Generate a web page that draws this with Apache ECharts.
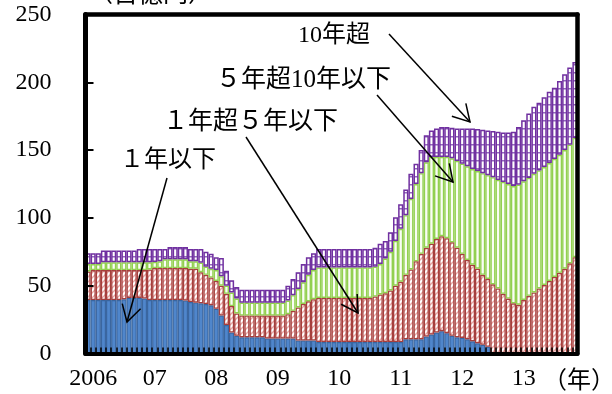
<!DOCTYPE html>
<html>
<head>
<meta charset="utf-8">
<script src="https://cdn.jsdelivr.net/npm/echarts@6/dist/echarts.min.js"></script>
<style>
  html, body { margin: 0; padding: 0; background: #fff; }
  #chart { width: 612px; height: 394px; }
</style>
</head>
<body>
<div id="chart"></div>
<script>
// Monthly outstanding amounts by residual maturity (百億円), stacked.
const upTo1y = [
  39.5, 39.5, 39.5, 39.5, 39.5, 39.5, 39.5, 40, 41, 41, 41, 40.5,
  39.5, 39.5, 39.5, 39.5, 39.5, 39.5, 39.5, 39, 38, 37.5, 37, 36.5,
  35.5, 33, 28, 21, 15.5, 13, 12, 12, 12, 12, 12, 11,
  11, 11, 11, 11, 11, 9.5, 9.5, 9.5, 9.5, 8.5, 8.5, 8.5,
  8.5, 8.5, 8.5, 8.5, 8.5, 8.5, 8.5, 8.5, 8.5, 8.5, 8.5, 8.5,
  8.5, 8.5, 10.5, 10.5, 10.5, 10.5, 12.5, 14, 15.5, 16.5, 15, 13,
  12, 11.5, 10.5, 9, 7.5, 6.5, 5, 0, 0, 0, 0, 0,
  0, 0, 0, 0, 0, 0, 0, 0, 0, 0, 0, 0
];
const over1to5y = [
  21, 22, 22, 22, 22, 22, 22, 21.5, 20.5, 20.5, 20.5, 21,
  22.5, 23.5, 23.5, 23.5, 23.5, 23.5, 23.5, 24, 24.5, 25, 23, 21.5,
  20.5, 20.5, 22, 23, 19.5, 16.5, 16, 16, 16, 16, 16, 17,
  17, 17, 17, 18, 20.5, 24.5, 27, 29, 30.5, 32.5, 32.5, 32.5,
  32.5, 32.5, 32.5, 32.5, 32.5, 32.5, 32.5, 32.5, 33.5, 35, 36, 38,
  41.5, 44.5, 47.5, 51.5, 57.5, 63, 65.5, 67, 69, 70, 70, 69,
  66, 62, 58.5, 56.5, 55, 51.5, 50, 51, 48, 44, 40.5, 37,
  36, 39.5, 42.5, 45, 48, 50.5, 53.5, 56.5, 59.5, 62.5, 66.5, 71
];
const over5to10y = [
  5.5, 4.5, 4.5, 5.8, 5.8, 5.8, 5.8, 5.8, 5.8, 5.8, 5.8, 5.8,
  5.3, 4.5, 5, 6.5, 6.5, 6.5, 6.5, 6.5, 5.5, 5.5, 7, 6,
  6.5, 8, 7, 6, 10, 11, 9.5, 9.5, 9.5, 9.5, 9.5, 9.5,
  9.5, 9.5, 9.5, 10, 11.5, 13.5, 16, 19.5, 21.5, 22.5, 22.5, 22.5,
  22.5, 22.5, 22.5, 22.5, 22.5, 22.5, 22.5, 22.5, 22, 22.5, 25.5, 28.5,
  33, 39, 44, 52, 57, 59.5, 63, 64, 60.5, 58.5, 60, 62,
  64, 66.5, 69, 70.5, 72, 75, 76.5, 79, 80, 82.5, 84.5, 86.5,
  88.5, 87.5, 87, 87.5, 87, 87, 87, 87, 87, 87.5, 87.5, 88
];
const over10y = [
  8, 8, 8, 8.7, 8.7, 8.7, 8.7, 8.7, 8.7, 8.7, 9.7, 9.7,
  9.7, 9.5, 9, 7.5, 9, 9, 9, 9, 9, 9, 10, 11,
  11, 9.5, 13.5, 11, 9, 8.5, 9.5, 9.5, 9.5, 9.5, 9.5, 9.5,
  9.5, 9.5, 9.5, 11, 12, 12.5, 13.5, 13, 12.5, 13.5, 13.5, 13.5,
  13.5, 13.5, 13.5, 13.5, 13.5, 13.5, 13.5, 13.5, 14, 15, 13, 14.5,
  17.5, 18, 19, 18.5, 15, 17, 20, 19.5, 21, 22, 22, 22.5,
  24, 26, 28, 30, 31, 32, 33, 34, 35.5, 36.5, 38, 40,
  42.5, 45, 47.5, 49.5, 50, 51.5, 52.5, 52.5, 54.5, 56, 57, 56
];
const seriesNames = ['1年以下', '1年超5年以下', '5年超10年以下', '10年超'];
const firstYear = 2005, firstMonth = 12, monthCount = 96;

// Month categories "YYYY/MM"; the January bars carry the year labels.
const months = [];
for (let k = 0; k < monthCount; k++) {
  const m0 = firstMonth - 1 + k;
  const y = firstYear + Math.floor(m0 / 12);
  const m = (m0 % 12) + 1;
  months.push(y + '/' + (m < 10 ? '0' + m : m));
}

function tile(w, h, draw) {
  const c = document.createElement('canvas');
  c.width = w; c.height = h;
  const g = c.getContext('2d');
  draw(g, w, h);
  return { image: c, repeat: 'repeat' };
}
const redHatch = tile(5, 5, (g, w, h) => {
  g.fillStyle = '#fff'; g.fillRect(0, 0, w, h);
  g.strokeStyle = '#E8A4A2'; g.lineWidth = 1.4;
  g.beginPath();
  g.moveTo(0, h); g.lineTo(w, 0);
  g.moveTo(-1, 1); g.lineTo(1, -1);
  g.moveTo(w - 1, h + 1); g.lineTo(w + 1, h - 1);
  g.stroke();
});
const purpleGrid = tile(6, 8, (g, w, h) => {
  g.fillStyle = '#fff'; g.fillRect(0, 0, w, h);
  g.fillStyle = '#9468BE'; g.fillRect(0, 0, w, 1.5);
});

const serif = "'Liberation Serif', 'Noto Sans CJK JP', serif";
const jp = "'Liberation Serif', 'Noto Sans CJK JP', sans-serif";

function bar(name, data, color, border, bw) {
  return {
    name, type: 'bar', stack: 'total', data,
    barCategoryGap: '0%',
    itemStyle: { color, borderColor: border, borderWidth: bw },
    emphasis: { disabled: true }
  };
}

// Label plus arrow annotations
function arrow(x1, y1, x2, y2) {
  const dx = x2 - x1, dy = y2 - y1, L = Math.hypot(dx, dy);
  const ux = dx / L, uy = dy / L, hl = 19, a = Math.PI / 6;
  const bx = -ux * hl, by = -uy * hl;
  const r = (t) => [x2 + bx * Math.cos(t) - by * Math.sin(t), y2 + bx * Math.sin(t) + by * Math.cos(t)];
  const style = { stroke: '#000', lineWidth: 1.5, fill: null };
  return [
    { type: 'line', shape: { x1, y1, x2, y2 }, style, z: 20 },
    { type: 'polyline', shape: { points: [r(a), [x2, y2], r(-a)] }, style, z: 20 }
  ];
}
function label(text, x, y, size) {
  return { type: 'text', x, y, z: 20,
    style: { text, font: (size || 25) + 'px ' + jp, fill: '#000', verticalAlign: 'middle' } };
}

const frameLine = { show: true, onZero: false, lineStyle: { color: '#000', width: 4.5 } };

const chart = echarts.init(document.getElementById('chart'), null, { renderer: 'canvas' });
chart.setOption({
  animation: false,
  backgroundColor: '#fff',
  grid: { left: 85.5, right: 34.5, top: 14.5, bottom: 40.5 },
  xAxis: [
    {
      type: 'category', data: months, position: 'bottom', z: 5,
      axisLine: { show: true, onZero: false, lineStyle: { color: '#000', width: 4 } },
      axisTick: { show: true, inside: true, length: 6, interval: 0, lineStyle: { color: '#000', width: 1.5 } },
      axisLabel: {
        interval: (i, v) => v.endsWith('/01'),
        formatter: v => (v.startsWith('2006') ? '2006' : v.slice(2, 4)),
        fontFamily: serif, fontSize: 24, color: '#000', margin: 13
      },
      splitLine: { show: false }
    },
    {
      type: 'category', data: months, position: 'top', z: 5,
      axisLine: frameLine,
      axisTick: { show: false }, axisLabel: { show: false }, splitLine: { show: false }
    }
  ],
  yAxis: [
    {
      type: 'value', min: 0, max: 250, interval: 50, z: 5,
      axisLine: { show: true, onZero: false, lineStyle: { color: '#000', width: 5 } },
      axisTick: { show: true, inside: true, length: 8, lineStyle: { color: '#000', width: 2 } },
      axisLabel: { fontFamily: serif, fontSize: 24, color: '#000', margin: 34 },
      splitLine: { show: false }
    },
    {
      type: 'value', min: 0, max: 250, interval: 50, position: 'right', z: 5,
      axisLine: frameLine,
      axisTick: { show: false }, axisLabel: { show: false }, splitLine: { show: false }
    }
  ],
  series: [
    bar(seriesNames[0], upTo1y, '#4F86CC', '#3A66A0', 1.2),
    bar(seriesNames[1], over1to5y, redHatch, '#A63F3D', 1.3),
    bar(seriesNames[2], over5to10y, '#FAFDF6', '#92D050', 1.4),
    bar(seriesNames[3], over10y, purpleGrid, '#7030A0', 1.5)
  ],
  graphic: [
    label('（百億円）', 88, -5),
    label('10年超', 298, 36, 24),
    label('５年超10年以下', 216, 80),
    label('１年超５年以下', 163, 122),
    label('１年以下', 120, 161, 24),
    label('（年）', 543, 382, 24),
    ...arrow(167, 178, 127, 322),
    ...arrow(246, 137, 358, 313),
    ...arrow(377, 95, 453, 182),
    ...arrow(389, 34, 470, 122)
  ]
});
</script>
</body>
</html>
